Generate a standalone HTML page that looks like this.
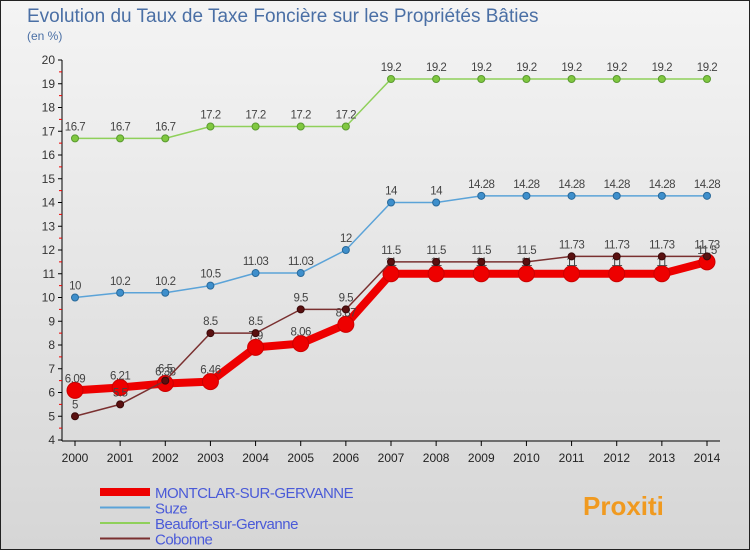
<!DOCTYPE html>
<html><head><meta charset="utf-8"><style>
body{margin:0;}
#wrap{width:750px;height:550px;position:relative;background:linear-gradient(#f4f4f4,#d6d6d6);font-family:"Liberation Sans",sans-serif;overflow:hidden;}
svg{position:absolute;left:0;top:0;}
</style></head><body>
<div id="wrap">
<svg id="chart" width="750" height="550"></svg>
</div>
<script>
const years=[2000,2001,2002,2003,2004,2005,2006,2007,2008,2009,2010,2011,2012,2013,2014];
const montclar=[6.09,6.21,6.38,6.46,7.9,8.06,8.87,11,11,11,11,11,11,11,11.5];
const suze=[10,10.2,10.2,10.5,11.03,11.03,12,14,14,14.28,14.28,14.28,14.28,14.28,14.28];
const beaufort=[16.7,16.7,16.7,17.2,17.2,17.2,17.2,19.2,19.2,19.2,19.2,19.2,19.2,19.2,19.2];
const cobonne=[5,5.5,6.5,8.5,8.5,9.5,9.5,11.5,11.5,11.5,11.5,11.73,11.73,11.73,11.73];
const yTicks=[4,5,6,7,8,9,10,11,12,13,14,15,16,17,18,19,20];
const NS="http://www.w3.org/2000/svg";
const svg=document.getElementById('chart');
const x=i=>75+i*(632/14);
const y=v=>440-(v-4)*23.75;
function mk(t,a,p){const e=document.createElementNS(NS,t);for(const k in a)e.setAttribute(k,a[k]);(p||svg).appendChild(e);return e;}
// border
let b=mk('rect',{x:0.5,y:0.5,width:749,height:549,fill:'none',stroke:'#222'});


let t=mk('text',{x:27,y:22,'font-size':19,fill:'#4a6fa5'});t.textContent='Evolution du Taux de Taxe Foncière sur les Propriétés Bâties';


t=mk('text',{x:27,y:40,'font-size':12,fill:'#4a6fa5'});t.textContent='(en %)';


// axes
let ax=mk('line',{x1:62,y1:60,x2:62,y2:441,stroke:'#000'});


ax=mk('line',{x1:62,y1:441,x2:720,y2:441,stroke:'#000'});


yTicks.forEach(v=>{
 mk('line',{x1:58,y1:y(v),x2:62,y2:y(v),stroke:'#000'});
 if(v<20)mk('line',{x1:59,y1:y(v+0.5),x2:62,y2:y(v+0.5),stroke:'#e00'});
 const l=mk('text',{x:55,y:y(v)+4,'font-size':12,fill:'#333','text-anchor':'end'});l.textContent=v;
 
 
});
years.forEach((yr,i)=>{
 mk('line',{x1:x(i),y1:441,x2:x(i),y2:446,stroke:'#000'});
 const l=mk('text',{x:x(i),y:462,'font-size':12,fill:'#222','text-anchor':'middle'});l.textContent=yr;
 
 
});
function series(data,name,color,w,r,dot,dotStroke){
 const g=mk('g',{});
 
 
 mk('polyline',{points:data.map((v,i)=>x(i)+','+y(v)).join(' '),fill:'none',stroke:color,'stroke-width':w,'stroke-linejoin':'round'},g);
 data.forEach((v,i)=>{
  const c=mk('circle',{cx:x(i),cy:y(v),r:r,fill:dot,stroke:dotStroke,'stroke-width':1},g);
  
  
  const l=mk('text',{x:x(i),y:y(v)-8,'font-size':11.5,fill:'#444','text-anchor':'middle','letter-spacing':'-0.5'},g);
  l.textContent=v;
  
  
 });
}
series(beaufort,'beaufort','#8fd05a',1.5,3.5,'#80c840','#5a9a30');
series(suze,'suze','#5ba3d8',1.5,3.5,'#3e8fcc','#2a6a9a');
series(montclar,'montclar','#e00',8,8,'#e00','#c00');
series(cobonne,'cobonne','#7a3030',1.5,3.5,'#5a1010','#3a0a0a');
// legend
const leg=[['MONTCLAR-SUR-GERVANNE','#e00',8],['Suze','#5ba3d8',2],['Beaufort-sur-Gervanne','#8fd05a',2],['Cobonne','#7a3030',2]];
leg.forEach((d,i)=>{
 const g=mk('g',{});
 
 
 const yy=492+i*15.5;
 mk('line',{x1:100,y1:yy,x2:150,y2:yy,stroke:d[1],'stroke-width':d[2]},g);
 const l=mk('text',{x:155,y:yy+6,'font-size':15,fill:'#4a5ad8','letter-spacing':'-0.5'},g);l.textContent=d[0];
});
t=mk('text',{x:583,y:515,'font-size':26,'font-weight':'bold',fill:'#f09a20'});t.textContent='Proxiti';


</script>
</body></html>
